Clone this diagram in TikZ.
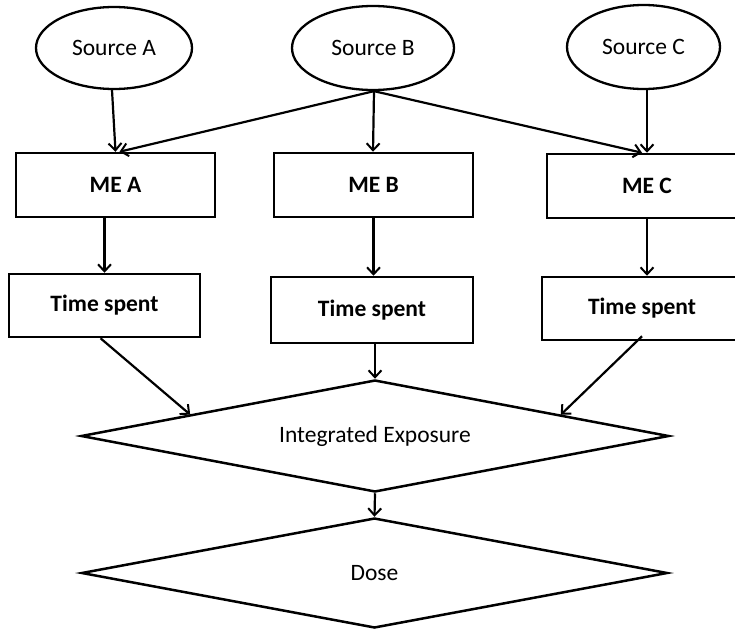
\documentclass[tikz,border=0pt]{standalone}
\usepackage{fontspec}
\setmainfont{Carlito}
\usetikzlibrary{shapes.geometric,arrows.meta,calc}
\begin{document}
\begin{tikzpicture}[x=1pt,y=-1pt,
  every node/.style={inner sep=0pt, font=\fontsize{23.5}{28}\selectfont},
  src/.style={ellipse, draw, line width=2.3pt},
  box/.style={rectangle, draw, line width=2.5pt, font=\fontsize{23.5}{28}\selectfont\bfseries},
  dia/.style={diamond, draw, line width=2.5pt, aspect=5.25},
  arr/.style={line width=2.2pt, -{Straight Barb[length=7pt,width=13pt,line width=2pt]}}]
\useasboundingbox (0,0) rectangle (735,629);
\clip (0,0) rectangle (735,629);
\fill[white] (0,0) rectangle (735,629);

% sources
\node[src, minimum width=156pt, minimum height=82pt] (srcA) at (114,48) {Source A};
\node[src, minimum width=162pt, minimum height=84pt] (srcB) at (373,48) {Source B};
\node[src, minimum width=153pt, minimum height=84pt] (srcC) at (643.5,47) {Source C};

% microenvironments
\node[box, minimum width=199pt, minimum height=64pt] (meA) at (115.5,185) {ME A};
\node[box, minimum width=199pt, minimum height=64pt] (meB) at (373.5,185) {ME B};
\node[box, minimum width=200pt, minimum height=64pt] (meC) at (647,186) {ME C};

% time spent
\node[box, minimum width=191pt, minimum height=63pt] (tsA) at (104.5,305.5) {Time spent};
\node[box, minimum width=202pt, minimum height=66pt] (tsB) at (372,310) {Time spent};
\node[box, minimum width=200pt, minimum height=63pt] (tsC) at (642,308.5) {Time spent};

% integration and dose
\node[dia, minimum width=588pt, minimum height=112pt] (ie) at (375,436) {Integrated Exposure};
\node[dia, minimum width=586pt, minimum height=110pt] (dose) at (374.5,573) {Dose};

% connectors
\draw[arr] ([xshift=-2pt]srcA.south) -- ([xshift=0pt]meA.north);
\draw[arr] ([xshift=1pt]srcB.south) -- ([xshift=4pt]meA.north);
\draw[arr] ([xshift=1pt]srcB.south) -- (srcB.south |- meB.north);
\draw[arr] ([xshift=1pt]srcB.south) -- ([xshift=-5pt]meC.north);
\draw[arr] (srcC.south -| meC.north) -- (meC.north);

\draw[arr] (tsA.north |- meA.south) -- (tsA.north);
\draw[arr] (meB.south) -- (meB.south |- tsB.north);
\draw[arr] (meC.south) -- (meC.south |- tsC.north);

\coordinate (ieL) at ($(ie.west)!0.374!(ie.north)$);
\coordinate (ieR) at ($(ie.north)!0.629!(ie.east)$);
\draw[arr] ([xshift=-4pt]tsA.south) -- (ieL);
\draw[arr] (tsB.south -| ie.north) -- (ie.north);
\draw[arr] ([yshift=5pt]tsC.south) -- (ieR);
\draw[arr] (ie.south) -- (dose.north);
\end{tikzpicture}
\end{document}
